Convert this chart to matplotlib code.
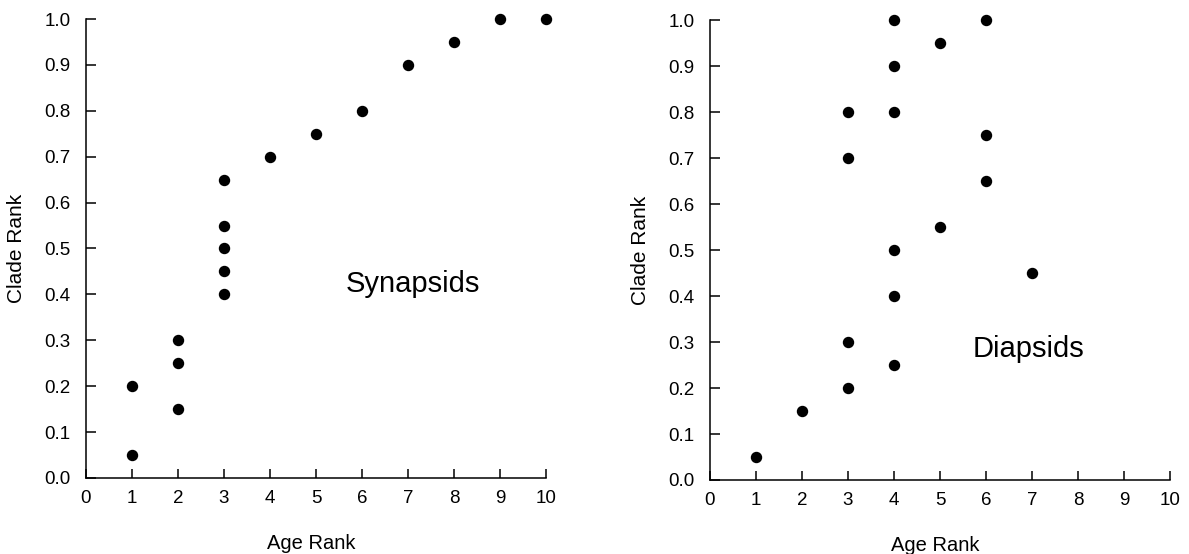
import matplotlib.pyplot as plt

plt.rcParams["font.family"] = ["Liberation Sans", "DejaVu Sans"]

# Synapsids
syn_age = [1, 1, 2, 2, 2, 3, 3, 3, 3, 3, 4, 5, 6, 7, 8, 9, 10]
syn_clade = [0.05, 0.20, 0.15, 0.25, 0.30, 0.40, 0.45, 0.50, 0.55, 0.65,
             0.70, 0.75, 0.80, 0.90, 0.95, 1.00, 1.00]

# Diapsids
dia_age = [1, 2, 3, 3, 3, 3, 4, 4, 4, 4, 4, 4, 5, 5, 6, 6, 6, 7]
dia_clade = [0.05, 0.15, 0.20, 0.30, 0.70, 0.80, 0.25, 0.40, 0.50, 0.80,
             0.90, 1.00, 0.55, 0.95, 0.65, 0.75, 1.00, 0.45]

x_ticks = list(range(0, 11))
y_ticks = [i / 10 for i in range(0, 11)]


def panel(ax, age, clade, name, name_xy):
    ax.plot(age, clade, "o", color="black", markersize=7.2, clip_on=False)
    ax.set_xlim(0, 10)
    ax.set_ylim(0, 1)
    ax.set_xticks(x_ticks)
    ax.set_yticks(y_ticks)
    ax.set_yticklabels([f"{v:.1f}" for v in y_ticks])
    ax.spines["top"].set_visible(False)
    ax.spines["right"].set_visible(False)
    for s in ["left", "bottom"]:
        ax.spines[s].set_linewidth(1.1)
    ax.tick_params(axis="x", direction="in", length=6.5, width=1.1,
                   pad=9, labelsize=13.5)
    ax.tick_params(axis="y", direction="in", length=7, width=1.1,
                   pad=11, labelsize=13.5)
    ax.set_xlabel("Age Rank", fontsize=14.5, va="center")
    ax.set_ylabel("Clade Rank", fontsize=15)
    ax.xaxis.set_label_coords(0.49, -0.142)
    ax.yaxis.set_label_coords(-0.13, 0.5)
    ax.text(name_xy[0], name_xy[1], name, fontsize=21, va="baseline")


fig = plt.figure(figsize=(11.89, 5.54), dpi=100)

ax1 = fig.add_axes([0.0723, 0.1372, 0.3869, 0.8285])
panel(ax1, syn_age, syn_clade, "Synapsids", (5.65, 0.405))

ax2 = fig.add_axes([0.5971, 0.1336, 0.3869, 0.830])
panel(ax2, dia_age, dia_clade, "Diapsids", (5.72, 0.268))

fig.savefig("out.png", dpi=100)
